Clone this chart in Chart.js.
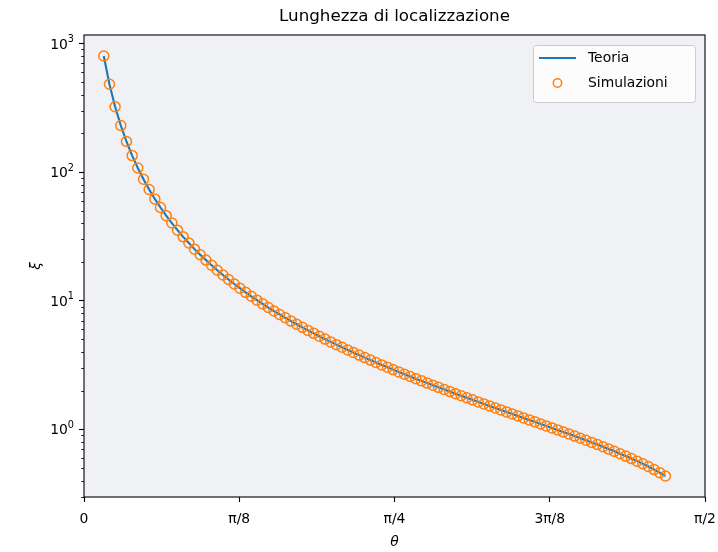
<!DOCTYPE html>
<html lang="it">
<head>
  <meta charset="UTF-8" />
  <title>Lunghezza di localizzazione</title>
  <script src="https://cdn.jsdelivr.net/npm/chart.js"></script>
  <style>
    html, body {
      margin: 0;
      padding: 0;
      background: #fff;
    }
    #wrap {
      width: 718px;
      height: 552px;
    }
  </style>
</head>
<body>
  <div id="wrap"><canvas id="xiChart" width="718" height="552"></canvas></div>

  <script>
    // angoli theta (rad) dei punti
    const theta = [
      0.0500, 0.0644, 0.0787, 0.0931, 0.1074, 0.1218, 0.1361, 0.1505, 0.1648, 0.1792,
      0.1935, 0.2079, 0.2222, 0.2366, 0.2509, 0.2653, 0.2796, 0.2940, 0.3083, 0.3227,
      0.3370, 0.3514, 0.3657, 0.3801, 0.3944, 0.4088, 0.4231, 0.4375, 0.4518, 0.4662,
      0.4805, 0.4949, 0.5092, 0.5236, 0.5379, 0.5523, 0.5666, 0.5810, 0.5953, 0.6097,
      0.6240, 0.6384, 0.6527, 0.6671, 0.6814, 0.6958, 0.7101, 0.7245, 0.7388, 0.7532,
      0.7675, 0.7819, 0.7962, 0.8106, 0.8249, 0.8393, 0.8536, 0.8680, 0.8823, 0.8967,
      0.9110, 0.9254, 0.9397, 0.9541, 0.9684, 0.9828, 0.9971, 1.0115, 1.0258, 1.0402,
      1.0545, 1.0689, 1.0832, 1.0976, 1.1119, 1.1263, 1.1406, 1.1550, 1.1693, 1.1837,
      1.1980, 1.2124, 1.2267, 1.2411, 1.2554, 1.2698, 1.2841, 1.2985, 1.3128, 1.3272,
      1.3415, 1.3559, 1.3702, 1.3846, 1.3989, 1.4133, 1.4276, 1.4420, 1.4563, 1.4707
    ];

    // lunghezza di localizzazione xi (teoria e simulazioni coincidono a vista)
    const xi = [
      800, 481.9, 322.6, 230.4, 173.1, 134.5, 107.6, 88.0, 73.3, 61.9,
      53.1, 45.9, 40.2, 35.4, 31.4, 28.1, 25.2, 22.80, 20.71, 18.87,
      17.27, 15.86, 14.62, 13.50, 12.52, 11.63, 10.83, 10.11, 9.458, 8.861,
      8.321, 7.824, 7.371, 6.952, 6.569, 6.212, 5.885, 5.580, 5.298, 5.033,
      4.789, 4.559, 4.346, 4.145, 3.957, 3.780, 3.614, 3.457, 3.310, 3.171,
      3.040, 2.915, 2.797, 2.685, 2.579, 2.478, 2.383, 2.291, 2.205, 2.122,
      2.043, 1.967, 1.895, 1.826, 1.760, 1.697, 1.636, 1.578, 1.522, 1.468,
      1.417, 1.367, 1.319, 1.273, 1.228, 1.185, 1.144, 1.103, 1.064, 1.027,
      0.990, 0.955, 0.920, 0.887, 0.854, 0.823, 0.792, 0.762, 0.732, 0.703,
      0.675, 0.647, 0.620, 0.593, 0.566, 0.540, 0.514, 0.487, 0.461, 0.434
    ];

    const xTickVals = [0, Math.PI / 8, Math.PI / 4, 3 * Math.PI / 8, Math.PI / 2];
    const xTickLabels = ['0', 'π/8', 'π/4', '3π/8', 'π/2'];
    const yTickVals = [1, 10, 100, 1000];
    const yTickExps = ['0', '1', '2', '3'];

    const FONT = 'DejaVu Sans';
    Chart.defaults.font.family = FONT;
    Chart.defaults.color = '#000';

    const points = theta.map((t, i) => ({ x: t, y: xi[i] }));

    // sfondo, cornice, tacche minori, etichette 10^n, titolo e legenda
    const framePlugin = {
      id: 'frame',
      beforeDraw(chart) {
        const { ctx, chartArea: a } = chart;
        ctx.save();
        ctx.fillStyle = '#fff';
        ctx.fillRect(0, 0, chart.width, chart.height);
        ctx.fillStyle = '#f0f1f4';
        ctx.fillRect(a.left, a.top, a.right - a.left, a.bottom - a.top);
        ctx.restore();
      },
      afterDraw(chart) {
        const { ctx, chartArea: a } = chart;
        const ys = chart.scales.y;
        ctx.save();

        // tacche minori asse log
        ctx.strokeStyle = '#000';
        ctx.lineWidth = 0.85;
        for (let n = -1; n <= 3; n++) {
          for (let k = 2; k <= 9; k++) {
            const v = k * Math.pow(10, n);
            if (v < ys.min || v > ys.max) continue;
            const y = Math.round(ys.getPixelForValue(v)) + 0.5;
            ctx.beginPath();
            ctx.moveTo(a.left, y);
            ctx.lineTo(a.left - 2.8, y);
            ctx.stroke();
          }
        }

        // etichette 10^n con esponente
        ctx.fillStyle = '#000';
        ctx.textBaseline = 'alphabetic';
        ctx.textAlign = 'left';
        yTickVals.forEach((v, i) => {
          const y = ys.getPixelForValue(v);
          ctx.font = `9.7px "${FONT}"`;
          const ew = ctx.measureText(yTickExps[i]).width;
          ctx.font = `13.9px "${FONT}"`;
          const bw = ctx.measureText('10').width;
          const right = a.left - 5 - 5;
          const x0 = right - ew - bw;
          ctx.fillText('10', x0, y + 5);
          ctx.font = `9.7px "${FONT}"`;
          ctx.fillText(yTickExps[i], x0 + bw, y - 1.5);
        });

        // cornice
        ctx.lineWidth = 1.1;
        ctx.strokeRect(a.left, a.top, a.right - a.left, a.bottom - a.top);

        // titolo
        ctx.fillStyle = '#000';
        ctx.font = `16.7px "${FONT}"`;
        ctx.textAlign = 'center';
        ctx.textBaseline = 'alphabetic';
        ctx.fillText('Lunghezza di localizzazione', (a.left + a.right) / 2, 21);

        // legenda
        const ds = chart.data.datasets;
        const bx = 533, by = 45, bw = 162, bh = 57;
        ctx.beginPath();
        ctx.roundRect(bx + 0.5, by + 0.5, bw, bh, 3);
        ctx.fillStyle = 'rgba(255,255,255,0.8)';
        ctx.fill();
        ctx.strokeStyle = '#cccccc';
        ctx.lineWidth = 1;
        ctx.stroke();

        ctx.strokeStyle = ds[0].borderColor;
        ctx.lineWidth = ds[0].borderWidth;
        ctx.beginPath();
        ctx.moveTo(539, 58);
        ctx.lineTo(576, 58);
        ctx.stroke();

        ctx.strokeStyle = ds[1].borderColor;
        ctx.lineWidth = ds[1].pointBorderWidth;
        ctx.beginPath();
        ctx.arc(557.5, 83, 4.2, 0, Math.PI * 2);
        ctx.stroke();

        ctx.fillStyle = '#000';
        ctx.font = `13.9px "${FONT}"`;
        ctx.textAlign = 'left';
        ctx.textBaseline = 'middle';
        ctx.fillText(ds[0].label, 588, 58);
        ctx.fillText(ds[1].label, 588, 83);

        ctx.restore();
      }
    };

    new Chart(document.getElementById('xiChart'), {
      type: 'line',
      data: {
        datasets: [
          {
            label: 'Teoria',
            data: points,
            borderColor: '#1f77b4',
            borderWidth: 2.1,
            pointRadius: 0,
            tension: 0,
            fill: false,
            order: 2
          },
          {
            label: 'Simulazioni',
            data: points,
            showLine: false,
            borderColor: '#ff7f0e',
            backgroundColor: 'rgba(0,0,0,0)',
            pointBorderColor: '#ff7f0e',
            pointBackgroundColor: 'rgba(0,0,0,0)',
            pointRadius: 5,
            pointBorderWidth: 1.5,
            pointStyle: 'circle',
            order: 1
          }
        ]
      },
      options: {
        responsive: false,
        animation: false,
        devicePixelRatio: 1,
        clip: false,
        layout: { padding: { top: 35, right: 13, left: 0, bottom: 0 } },
        plugins: {
          legend: { display: false },
          tooltip: { enabled: false },
          title: { display: false }
        },
        scales: {
          x: {
            type: 'linear',
            min: 0,
            max: Math.PI / 2,
            afterFit: s => {
              s.height = 55;
              s.paddingLeft = 0;
              s.paddingRight = 0;
            },
            afterBuildTicks: s => { s.ticks = xTickVals.map(v => ({ value: v })); },
            ticks: {
              callback: (v, i) => xTickLabels[i],
              autoSkip: false,
              maxRotation: 0,
              padding: 9,
              font: { size: 13.9 },
              color: '#000'
            },
            grid: {
              drawOnChartArea: false,
              drawTicks: true,
              tickLength: 5,
              tickColor: '#000',
              tickWidth: 1.1
            },
            border: { display: false },
            title: {
              display: true,
              text: 'θ',
              font: { size: 13.9, style: 'italic' },
              color: '#000',
              padding: { top: 0, bottom: 1 }
            }
          },
          y: {
            type: 'logarithmic',
            min: 0.298,
            max: 1165,
            afterFit: s => {
              s.width = 84;
              s.paddingTop = 0;
              s.paddingBottom = 0;
            },
            afterBuildTicks: s => { s.ticks = yTickVals.map(v => ({ value: v })); },
            ticks: {
              callback: () => '',
              autoSkip: false,
              padding: 5,
              font: { size: 13.9 },
              color: '#000'
            },
            grid: {
              drawOnChartArea: false,
              drawTicks: true,
              tickLength: 5,
              tickColor: '#000',
              tickWidth: 1.1
            },
            border: { display: false },
            title: {
              display: true,
              text: 'ξ',
              font: { size: 13.9, style: 'italic' },
              color: '#000',
              padding: { top: 28, bottom: 0 }
            }
          }
        }
      },
      plugins: [framePlugin]
    });
  </script>
</body>
</html>
